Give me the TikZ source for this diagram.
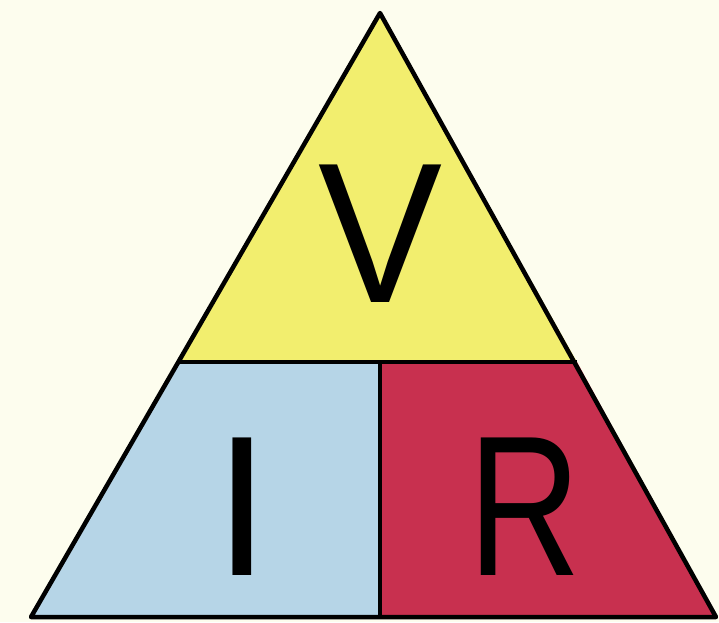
\documentclass[tikz,border=0pt]{standalone}
\usepackage{fontspec}
\usepackage{graphicx}
\setmainfont{Liberation Sans}
\definecolor{bgc}{HTML}{FDFDEE}
\definecolor{yel}{HTML}{F2EE6E}
\definecolor{blu}{HTML}{B6D5E7}
\definecolor{rdc}{HTML}{C8304F}
\begin{document}
\begin{tikzpicture}[x=1pt,y=-1pt,
  edge/.style={line width=4.5pt,line join=round,black},
  letter/.style={font=\fontsize{200}{200}\selectfont,inner sep=0pt}]
\fill[bgc] (0,0) rectangle (719,622);
\useasboundingbox (0,0) rectangle (719,622);
\coordinate (A) at (380,13);
\coordinate (BL) at (31,617);
\coordinate (BR) at (716,617);
\coordinate (ML) at (180,362);
\coordinate (MR) at (577,362);
\coordinate (MM) at (380,362);
\coordinate (BM) at (380,617);
\fill[yel] (A) -- (MR) -- (ML) -- cycle;
\fill[blu] (ML) -- (MM) -- (BM) -- (BL) -- cycle;
\fill[rdc] (MM) -- (MR) -- (BR) -- (BM) -- cycle;
\draw[edge] (A) -- (BR) -- (BL) -- cycle;
\draw[edge] (ML) -- (MR);
\draw[edge] (MM) -- (BM);
\node[letter,anchor=base] (v) at (381,302) {\scalebox{0.93}[1]{V}};
\node[letter,anchor=base] (i) at (242,575) {I};
\node[letter,anchor=base] (r) at (525,575) {\scalebox{0.78}[1]{R}};
\end{tikzpicture}
\end{document}
